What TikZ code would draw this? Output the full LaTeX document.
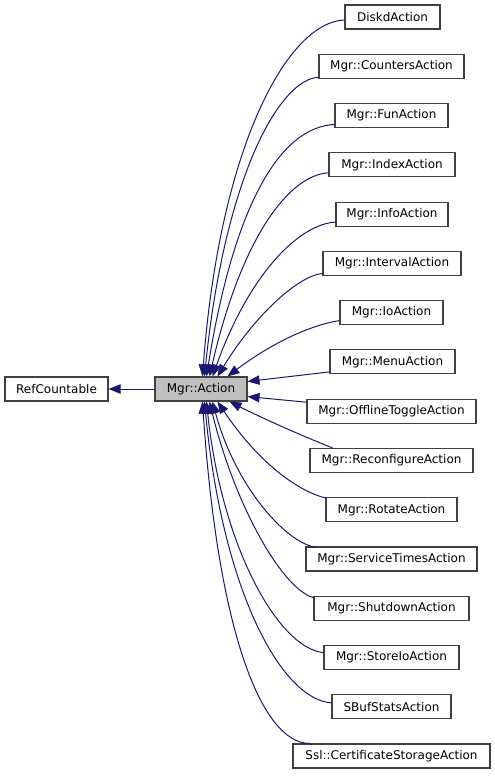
\documentclass[tikz,border=0pt]{standalone}
\usepackage{fontspec}
\setmainfont{DejaVu Sans}
\usetikzlibrary{arrows.meta,calc}
\definecolor{edgeblue}{HTML}{191970}
\definecolor{boxline}{HTML}{404040}
\definecolor{actfill}{HTML}{BFBFBF}
\begin{document}
\begin{tikzpicture}[x=0.75pt,y=-0.75pt,
  box/.style={draw=boxline,line width=0.8pt,fill=white,minimum height=18pt,inner sep=0pt,font=\fontsize{9pt}{10pt}\selectfont},
  edge/.style={draw=edgeblue,line width=0.75pt,-{Triangle[length=9pt,width=7pt]}}]
\useasboundingbox (0,0) rectangle (495,776);
\node[box,minimum width=77.25pt] (ref) at (56.5,389) {RefCountable};
\node[box,minimum width=69pt,fill=actfill] (act) at (201,389) {Mgr::Action};
\node[box,minimum width=71.25pt] (diskd) at (392.5,17) {DiskdAction};
\node[box,minimum width=108.75pt] (cnt) at (391.5,66.3) {Mgr::CountersAction};
\node[box,minimum width=84.75pt] (fun) at (391.5,115.5) {Mgr::FunAction};
\node[box,minimum width=94.5pt] (idx) at (392,164.8) {Mgr::IndexAction};
\node[box,minimum width=84pt] (info) at (392,214.1) {Mgr::InfoAction};
\node[box,minimum width=103.5pt] (intv) at (392,263.4) {Mgr::IntervalAction};
\node[box,minimum width=77.25pt] (io) at (391.5,312.6) {Mgr::IoAction};
\node[box,minimum width=93.75pt] (menu) at (392.5,361.9) {Mgr::MenuAction};
\node[box,minimum width=126.75pt] (off) at (391.5,411.2) {Mgr::OfflineToggleAction};
\node[box,minimum width=122.25pt] (rec) at (391.5,460.4) {Mgr::ReconfigureAction};
\node[box,minimum width=98.25pt] (rot) at (391.5,509.7) {Mgr::RotateAction};
\node[box,minimum width=128.25pt] (svc) at (391.5,559) {Mgr::ServiceTimesAction};
\node[box,minimum width=116.25pt] (shut) at (391.5,608.3) {Mgr::ShutdownAction};
\node[box,minimum width=101.25pt] (sio) at (391.5,657.5) {Mgr::StoreIoAction};
\node[box,minimum width=89.25pt] (sbuf) at (391.5,706.8) {SBufStatsAction};
\node[box,minimum width=147.75pt] (ssl) at (391.5,756) {Ssl::CertificateStorageAction};
% edges
\draw[edge] (act.west) -- (ref.east);
\draw[edge] ($(diskd.west)+(0,3)$) .. controls (288,22) and (220,145) .. ($(act.north west)+(48,0)$);
\draw[edge] ($(cnt.west)+(0,11)$) .. controls (280,79) and (225,175) .. ($(act.north west)+(50,0)$);
\draw[edge] ($(fun.west)+(0,9)$) .. controls (280,127) and (234,205) .. ($(act.north west)+(52,0)$);
\draw[edge] ($(idx.west)+(0,8)$) .. controls (290,175) and (242,235) .. ($(act.north west)+(55,0)$);
\draw[edge] ($(info.west)+(0,8)$) .. controls (300,224) and (250,272) .. ($(act.north west)+(58,0)$);
\draw[edge] ($(intv.west)+(0,10)$) .. controls (298,276) and (255,315) .. ($(act.north west)+(63,0)$);
\draw[edge] ($(io.west)+(0,8)$) .. controls (305,326) and (265,348) .. ($(act.north west)+(73,0)$);
\draw[edge] ($(menu.west)+(0,10)$) -- ($(act.north east)+(0,5)$);
\draw[edge] ($(off.west)+(0,-9)$) -- ($(act.south east)+(0,-5)$);
\draw[edge] ($(rec.north west)+(23,0)$) .. controls (300,435) and (262,418) .. ($(act.south west)+(75,0)$);
\draw[edge] ($(rot.north west)+(1,1)$) .. controls (300,492) and (260,465) .. ($(act.south west)+(63,0)$);
\draw[edge] ($(svc.north west)+(11,1)$) .. controls (285,543) and (235,485) .. ($(act.south west)+(58,0)$);
\draw[edge] ($(shut.north west)+(1,2)$) .. controls (285,592) and (236,510) .. ($(act.south west)+(55,0)$);
\draw[edge] ($(sio.west)+(0,-5)$) .. controls (280,649) and (222,550) .. ($(act.south west)+(52,0)$);
\draw[edge] ($(sbuf.west)+(0,-4)$) .. controls (283,700) and (223,595) .. ($(act.south west)+(50,0)$);
\draw[edge] ($(ssl.north west)+(17,0)$) .. controls (262,743) and (218,633) .. ($(act.south west)+(48,0)$);
\end{tikzpicture}
\end{document}
